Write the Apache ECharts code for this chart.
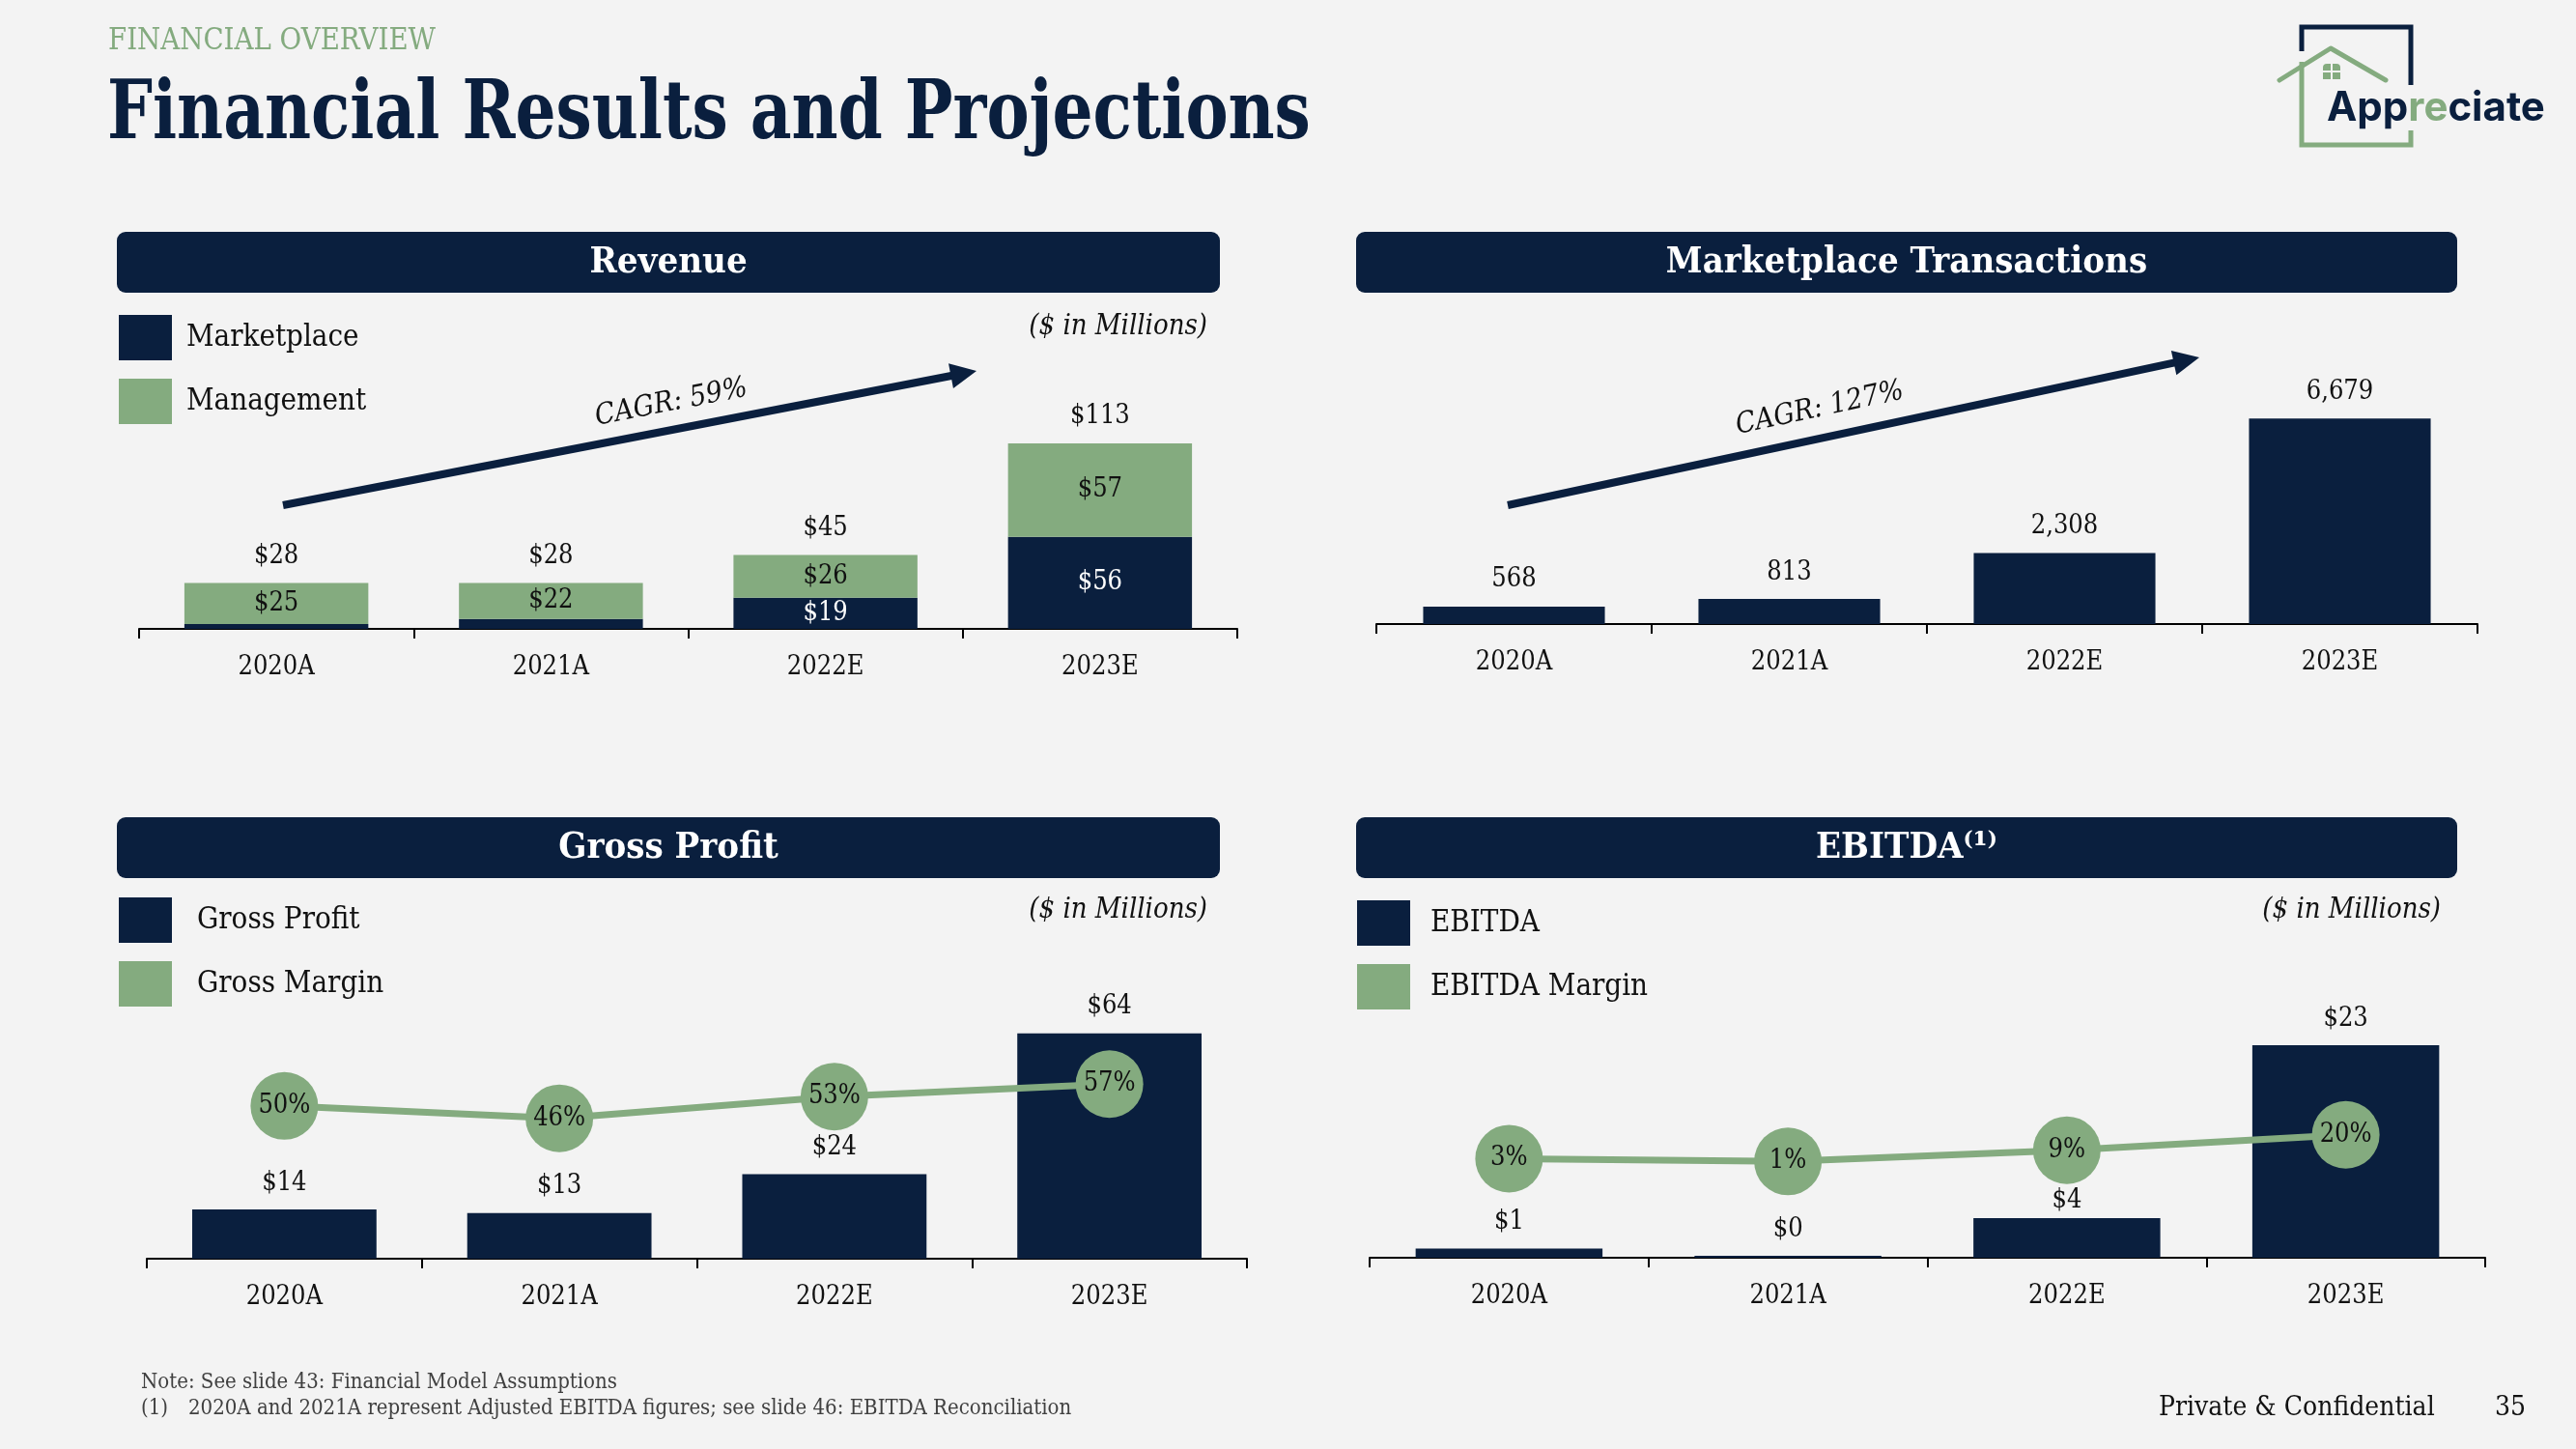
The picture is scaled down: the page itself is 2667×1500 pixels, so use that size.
<!DOCTYPE html>
<html><head><meta charset="utf-8">
<script src="https://cdn.jsdelivr.net/npm/echarts@6/dist/echarts.min.js"></script>
<style>html,body{margin:0;padding:0;background:#f3f3f3}#c{width:2667px;height:1500px}</style>
</head><body><div id="c"></div>
<script>
// ---------- data ----------
const categories = ['2020A', '2021A', '2022E', '2023E'];
const revenueMarketplace = [3, 6, 19, 56];
const revenueManagement = [25, 22, 26, 57];
const transactions = [568, 813, 2308, 6679];
const grossProfit = [14, 13, 24, 64];
const grossMargin = [50, 46, 53, 57];
const ebitda = [1, 0.2, 4.3, 23];
const ebitdaMargin = [3, 1, 9, 20];
const revenueCagr = 'CAGR: 59%';
const transactionsCagr = 'CAGR: 127%';
const revenueTotal = revenueMarketplace.map((v, i) => v + revenueManagement[i]);

// ---------- style ----------
const NAVY = '#0a1f3e', GREEN = '#84ab7f', BG = '#f3f3f3', INK = '#111111';
const SERIF = "'Roboto Slab','DejaVu Serif Condensed','DejaVu Serif',serif";
const LBL = {fontFamily: SERIF, fontSize: 27, color: INK};

const chart = echarts.init(document.getElementById('c'), null, {renderer: 'canvas'});

function xAx(gi) {
  return {
    type: 'category', gridIndex: gi, data: categories,
    axisLine: {lineStyle: {color: '#000', width: 2}},
    axisTick: {show: true, length: 10, lineStyle: {color: '#000', width: 2}},
    axisLabel: {fontFamily: SERIF, fontSize: 27, color: INK, margin: 26}
  };
}
function header(x, y, w, h, text) {
  return [
    {type: 'rect', shape: {x: x, y: y, width: w, height: h, r: 9}, style: {fill: NAVY}},
    {type: 'text', x: x + w / 2, y: y + h / 2 + 1,
     style: {text: text, fontFamily: SERIF, fontSize: 38, fontWeight: 'bold', fill: '#ffffff', align: 'center', verticalAlign: 'middle'}}
  ];
}
function arrow(x1, y1, x2, y2) {
  const dx = x2 - x1, dy = y1 - y2, L = Math.sqrt(dx * dx + dy * dy), a = Math.atan2(dy, dx);
  return {type: 'group', x: x1, y: y1, rotation: a, children: [
    {type: 'rect', shape: {x: 0, y: -4, width: L - 20, height: 8}, style: {fill: NAVY}},
    {type: 'polygon', shape: {points: [[L - 27, -13], [L, 0], [L - 27, 13]]}, style: {fill: NAVY}}
  ]};
}
function ttext(x, y, text, o) {
  return {type: 'text', x: x, y: y, rotation: o.rotation || 0, scaleX: o.scaleX || 1,
    style: Object.assign({text: text, fontFamily: SERIF, fill: INK, verticalAlign: 'middle', align: 'left'}, o.style)};
}

const graphics = [].concat(
  [ttext(112, 43, 'FINANCIAL OVERVIEW', {scaleX: 0.96, style: {fontSize: 32, fill: GREEN}}),
   ttext(111, 121, 'Financial Results and Projections', {scaleX: 0.875, style: {fontSize: 84, fontWeight: 'bold', fill: NAVY}})],
  header(121, 240, 1142, 63, 'Revenue'),
  header(1404, 240, 1140, 63, 'Marketplace Transactions'),
  header(121, 846, 1142, 63, 'Gross Profit'),
  header(1404, 846, 1140, 63, 'EBITDA\u207D\u00B9\u207E'),
  [
    ttext(1250, 338, '($ in Millions)', {style: {fontSize: 29, fontStyle: 'italic', align: 'right'}}),
    ttext(1250, 942, '($ in Millions)', {style: {fontSize: 29, fontStyle: 'italic', align: 'right'}}),
    ttext(2527, 942, '($ in Millions)', {style: {fontSize: 29, fontStyle: 'italic', align: 'right'}}),
    arrow(293, 523, 1011, 384),
    arrow(1561, 523, 2277, 370),
    ttext(695, 417, revenueCagr, {rotation: Math.atan2(139, 718), style: {fontSize: 30, fontStyle: 'italic', align: 'center'}}),
    ttext(1884, 423, transactionsCagr, {rotation: Math.atan2(153, 716), style: {fontSize: 30, fontStyle: 'italic', align: 'center'}}),
    ttext(146, 1431, 'Note: See slide 43: Financial Model Assumptions', {style: {fontSize: 22, fill: '#404040'}}),
    ttext(146, 1458, '(1)', {style: {fontSize: 22, fill: '#404040'}}),
    ttext(195, 1458, '2020A and 2021A represent Adjusted EBITDA figures; see slide 46: EBITDA Reconciliation', {style: {fontSize: 22, fill: '#404040'}}),
    ttext(2235, 1458, 'Private & Confidential', {style: {fontSize: 28, fill: INK}}),
    ttext(2583, 1458, '35', {style: {fontSize: 28, fill: INK}}),
    // logo
    {type: 'polyline', shape: {points: [[2383, 53], [2383, 28], [2496, 28], [2496, 88]]}, style: {stroke: NAVY, lineWidth: 5, fill: null}},
    {type: 'polyline', shape: {points: [[2360, 83], [2413, 50], [2470, 83]]}, style: {stroke: GREEN, lineWidth: 5, fill: null, lineJoin: 'round', lineCap: 'round'}},
    {type: 'polyline', shape: {points: [[2383, 64], [2383, 150], [2496, 150], [2496, 135]]}, style: {stroke: GREEN, lineWidth: 5, fill: null}},
    {type: 'rect', shape: {x: 2405, y: 66, width: 8, height: 7, r: [4, 0, 0, 0]}, style: {fill: GREEN}},
    {type: 'rect', shape: {x: 2415, y: 66, width: 8, height: 7, r: [0, 4, 0, 0]}, style: {fill: GREEN}},
    {type: 'rect', shape: {x: 2405, y: 75, width: 8, height: 7}, style: {fill: GREEN}},
    {type: 'rect', shape: {x: 2415, y: 75, width: 8, height: 7}, style: {fill: GREEN}},
    {type: 'text', x: 2409, y: 112, style: {text: '{a|App}{b|re}{a|ciate}', verticalAlign: 'middle', align: 'left',
      rich: {a: {fontFamily: 'Inter, Lato, sans-serif', fontWeight: 'bold', fontSize: 42, fill: NAVY},
             b: {fontFamily: 'Inter, Lato, sans-serif', fontWeight: 'bold', fontSize: 42, fill: GREEN}}}}
  ]
);

function legend(names, left, top, gap) {
  return {data: names, left: left, top: top, orient: 'vertical', padding: 0, icon: 'rect',
    itemWidth: 55, itemHeight: 47, itemGap: 19, selectedMode: false,
    textStyle: {fontFamily: SERIF, fontSize: 31, color: INK, padding: [0, 0, 0, gap]}};
}

const option = {
  backgroundColor: BG,
  animation: false,
  grid: [
    {left: 144, top: 430, width: 1137, height: 221},
    {left: 1425, top: 423, width: 1140, height: 223},
    {left: 152, top: 1048, width: 1139, height: 255},
    {left: 1418, top: 1063, width: 1155, height: 239}
  ],
  xAxis: [xAx(0), xAx(1), xAx(2), xAx(3)],
  yAxis: [
    {type: 'value', gridIndex: 0, min: 0, max: 130, show: false},
    {type: 'value', gridIndex: 1, min: 0, max: 7000, show: false},
    {type: 'value', gridIndex: 2, min: 0, max: 70, show: false},
    {type: 'value', gridIndex: 2, min: 0.8, max: 80.1, show: false},
    {type: 'value', gridIndex: 3, min: 0, max: 25, show: false},
    {type: 'value', gridIndex: 3, min: -67.6, max: 96.9, show: false}
  ],
  legend: [
    legend(['Marketplace', 'Management'], 123, 326, 10),
    legend(['Gross Profit', 'Gross Margin'], 123, 929, 21),
    legend(['EBITDA', 'EBITDA Margin'], 1405, 932, 16)
  ],
  series: [
    {name: 'Marketplace', type: 'bar', xAxisIndex: 0, yAxisIndex: 0, stack: 'rev', barWidth: '67%', barGap: '-100%',
     itemStyle: {color: NAVY},
     label: Object.assign({show: true, position: 'inside', formatter: p => '$' + p.value}, LBL, {color: '#ffffff'}),
     data: revenueMarketplace.map(v => ({value: v, label: {show: v >= 10}}))},
    {name: 'Management', type: 'bar', xAxisIndex: 0, yAxisIndex: 0, stack: 'rev', barWidth: '67%', barGap: '-100%',
     itemStyle: {color: GREEN},
     label: Object.assign({show: true, position: 'inside', formatter: p => '$' + p.value}, LBL),
     data: revenueManagement},
    {name: 'Revenue Total', type: 'bar', xAxisIndex: 0, yAxisIndex: 0, barWidth: '67%', barGap: '-100%', silent: true, z: 1,
     itemStyle: {color: 'rgba(0,0,0,0)'},
     label: Object.assign({show: true, position: 'top', distance: 14, formatter: p => '$' + p.value}, LBL),
     data: revenueTotal},
    {name: 'Marketplace Transactions', type: 'bar', xAxisIndex: 1, yAxisIndex: 1, barWidth: '66%',
     itemStyle: {color: NAVY},
     label: Object.assign({show: true, position: 'top', distance: 14, formatter: p => p.value.toLocaleString('en-US')}, LBL),
     data: transactions},
    {name: 'Gross Profit', type: 'bar', xAxisIndex: 2, yAxisIndex: 2, barWidth: '67%',
     itemStyle: {color: NAVY},
     label: Object.assign({show: true, position: 'top', distance: 14, formatter: p => '$' + p.value}, LBL),
     data: grossProfit},
    {name: 'Gross Margin', type: 'line', xAxisIndex: 2, yAxisIndex: 3, z: 5,
     symbol: 'circle', symbolSize: 70,
     lineStyle: {color: GREEN, width: 7}, itemStyle: {color: GREEN},
     label: Object.assign({show: true, position: 'inside', formatter: p => p.value + '%'}, LBL),
     data: grossMargin},
    {name: 'EBITDA', type: 'bar', xAxisIndex: 3, yAxisIndex: 4, barWidth: '67%',
     itemStyle: {color: NAVY},
     label: Object.assign({show: true, position: 'top', distance: 14, formatter: p => '$' + Math.round(p.value)}, LBL),
     data: ebitda.map(v => (v > 3 && v < 10) ? {value: v, label: {distance: 4}} : v)},
    {name: 'EBITDA Margin', type: 'line', xAxisIndex: 3, yAxisIndex: 5, z: 5,
     symbol: 'circle', symbolSize: 70,
     lineStyle: {color: GREEN, width: 7}, itemStyle: {color: GREEN},
     label: Object.assign({show: true, position: 'inside', formatter: p => p.value + '%'}, LBL),
     data: ebitdaMargin}
  ],
  graphic: graphics
};
chart.setOption(option);
</script>
</body></html>
